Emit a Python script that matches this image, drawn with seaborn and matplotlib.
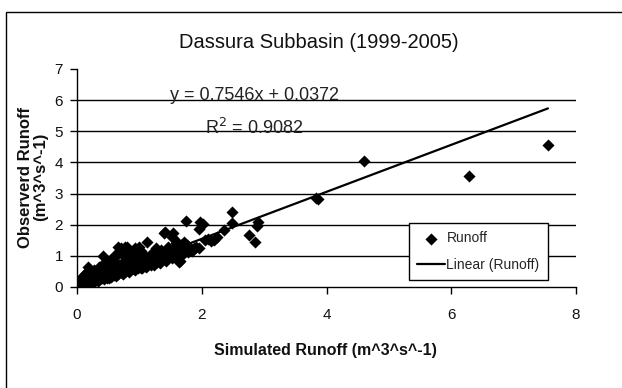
import matplotlib
matplotlib.use("Agg")
import matplotlib.pyplot as plt
from matplotlib.patches import Rectangle
import seaborn as sns
import pandas as pd

# Simulated vs observed runoff (m^3/s), Dassura subbasin 1999-2005
simulated = [
    0.01, 0.02, 0.03, 0.04, 0.05, 0.06, 0.07, 0.08, 0.09, 0.10, 0.11, 0.12, 0.13, 0.14,
    0.15, 0.16, 0.17, 0.18, 0.19, 0.20, 0.21, 0.22, 0.23, 0.24, 0.25, 0.26, 0.27, 0.28,
    0.29, 0.30, 0.15, 0.17, 0.12, 0.08, 0.05,
    0.32, 0.34, 0.36, 0.38, 0.40, 0.42, 0.44, 0.46, 0.48, 0.50, 0.52, 0.54, 0.56, 0.58,
    0.60, 0.62, 0.64, 0.66, 0.68, 0.70, 0.72, 0.74, 0.76, 0.78, 0.80, 0.82, 0.84, 0.86,
    0.88, 0.90, 0.92, 0.94, 0.96, 0.98, 1.00, 1.02, 1.04, 1.06, 1.08, 1.10, 1.12, 1.14,
    1.16, 1.18, 1.20, 1.22, 1.24, 1.26, 1.28, 1.30, 1.32, 1.34, 1.36, 1.38, 1.40, 1.42,
    1.44, 1.46, 1.48, 1.50, 1.52, 1.54, 1.56, 1.58, 1.60, 1.62, 1.64, 1.66, 1.68, 1.70,
    1.72, 1.74, 1.76, 1.80, 1.85, 1.88, 1.90,
    0.35, 0.45, 0.55, 0.65, 0.75, 0.85, 0.95, 1.05, 1.15, 1.25, 1.35, 1.45, 1.55, 0.25,
    0.30, 0.40, 0.50, 0.60, 0.70, 0.80, 0.90, 1.00, 1.10, 0.45, 0.55, 0.62, 0.72, 0.85,
    1.00, 0.35, 0.28, 0.20, 0.10, 0.22, 0.33, 0.43, 0.52, 0.63, 0.73, 0.83, 0.93, 1.03,
    1.13, 1.23, 1.33, 1.43, 1.53, 1.63, 0.66, 0.77, 0.80, 0.93,
    0.58, 0.68, 0.78, 0.88, 0.98, 1.08, 1.18, 1.28, 1.38, 1.48, 1.58, 1.68, 1.78, 0.48,
    0.38, 0.26, 0.14, 1.21, 1.31, 1.47, 1.57, 1.71, 1.82,
    1.75, 1.97, 1.95, 2.02, 2.36, 2.05, 2.15, 2.20, 1.86, 1.95, 2.48, 2.48, 2.90, 2.88,
    2.76, 2.85, 3.83, 3.86, 4.60, 6.28, 7.55, 1.41, 1.54, 1.65, 1.60, 2.10, 2.25,
]
observed = [
    0.02, 0.05, 0.01, 0.08, 0.03, 0.12, 0.05, 0.15, 0.06, 0.20, 0.08, 0.25, 0.10, 0.30,
    0.12, 0.22, 0.14, 0.35, 0.16, 0.55, 0.18, 0.28, 0.20, 0.40, 0.17, 0.32, 0.22, 0.45,
    0.20, 0.36, 0.45, 0.65, 0.40, 0.30, 0.18,
    0.25, 0.40, 0.22, 0.55, 0.30, 1.00, 0.35, 0.60, 0.30, 0.45, 0.75, 0.33, 0.50, 0.85,
    0.38, 0.65, 1.10, 0.42, 0.72, 1.25, 0.45, 0.80, 1.00, 0.50, 0.68, 1.20, 0.52, 0.90,
    0.60, 1.10, 0.58, 0.75, 1.00, 0.60, 0.85, 1.15, 0.62, 0.80, 1.00, 0.65, 1.45, 0.75,
    0.95, 0.70, 1.10, 0.78, 0.90, 1.25, 0.80, 1.00, 0.85, 1.20, 0.88, 1.05, 1.75, 0.92,
    1.15, 1.30, 0.95, 1.10, 1.60, 1.00, 1.25, 1.40, 1.05, 1.20, 0.80, 1.35, 1.15, 1.28,
    1.45, 1.20, 1.35, 1.20, 1.15, 1.25, 1.30,
    0.30, 0.42, 0.60, 0.55, 0.65, 0.75, 0.85, 0.90, 0.85, 1.05, 1.10, 1.05, 1.15, 0.25,
    0.50, 0.50, 0.60, 0.55, 0.60, 0.90, 0.70, 0.70, 0.95, 0.80, 0.90, 1.00, 1.15, 1.05,
    1.30, 0.65, 0.55, 0.45, 0.35, 0.15, 0.20, 0.25, 0.30, 0.36, 0.42, 0.48, 0.54, 0.60,
    0.66, 0.72, 0.78, 0.85, 0.92, 0.98, 1.30, 1.28, 1.30, 1.25,
    0.70, 0.62, 0.72, 0.82, 0.78, 0.88, 1.00, 0.95, 0.98, 1.20, 1.30, 1.05, 1.12, 0.52,
    0.46, 0.38, 0.22, 0.88, 1.12, 1.22, 1.05, 1.10, 1.22,
    2.13, 2.08, 1.85, 2.02, 1.82, 1.50, 1.48, 1.52, 1.19, 1.25, 2.42, 2.05, 2.10, 1.95,
    1.66, 1.46, 2.87, 2.82, 4.05, 3.55, 4.55, 1.78, 1.74, 0.82, 1.45, 1.55, 1.60,
]

# Least-squares trend line reported for the series
slope = 0.7546
intercept = 0.0372
r_squared = 0.9082

x_ticks = [0, 2, 4, 6, 8]
y_ticks = [0, 1, 2, 3, 4, 5, 6, 7]

df = pd.DataFrame({"Simulated": simulated, "Observed": observed})

sns.set_theme(style="white")
plt.rcParams["font.family"] = ["Liberation Sans", "DejaVu Sans"]

fig = plt.figure(figsize=(6.22, 3.88), dpi=100)
ax = fig.add_axes([77 / 622, 1 - 287 / 388, 499 / 622, 218 / 388])

# Chart-area frame
fig.patches.append(Rectangle((6 / 622, -0.1), 1.2, 1 - 12 / 388 + 0.1,
                             transform=fig.transFigure, fill=False,
                             edgecolor="black", linewidth=1.0, zorder=0))

# Horizontal gridlines
for yv in y_ticks[1:-1]:
    ax.axhline(yv, color="black", linewidth=1.0, zorder=1)

sns.scatterplot(data=df, x="Simulated", y="Observed", ax=ax, marker="D",
                s=38, color="black", linewidth=0, zorder=3, label="Runoff")

x_end = max(simulated)
ax.plot([0, x_end], [intercept, slope * x_end + intercept], color="black",
        linewidth=1.6, zorder=4, label="Linear (Runoff)")

ax.set_xlim(0, 8)
ax.set_ylim(0, 7)
ax.set_xticks(x_ticks)
ax.set_yticks(y_ticks)
ax.tick_params(axis="both", which="major", labelsize=11, color="black",
               direction="out", length=5, width=1, labelcolor="#111111")
ax.tick_params(axis="x", pad=10)
ax.tick_params(axis="y", pad=5)
ax.xaxis.set_ticks_position("bottom")
ax.yaxis.set_ticks_position("left")

for side in ["top", "right"]:
    ax.spines[side].set_visible(False)
for side in ["left", "bottom"]:
    ax.spines[side].set_color("black")
    ax.spines[side].set_linewidth(1.0)

ax.set_xlabel("Simulated Runoff (m^3^s^-1)", fontsize=11.5, fontweight="bold",
              color="#111111")
ax.set_ylabel("Observerd Runoff\n(m^3^s^-1)", fontsize=12, fontweight="bold",
              color="#111111", linespacing=1.0)
ax.xaxis.set_label_coords((325 - 77) / 499, (287 - 343) / 218)
ax.yaxis.set_label_coords((48 - 77) / 499, (287 - 177) / 218)

fig.text(319 / 622, 1 - 42 / 388, "Dassura Subbasin (1999-2005)", fontsize=14.5,
         ha="center", va="center", color="#111111")

ax.text((255 - 77) / 499, (287 - 95) / 218, f"y = {slope}x + {intercept:.4f}",
        transform=ax.transAxes, ha="center", va="center", fontsize=13,
        color="#222222", zorder=5)
ax.text((254 - 77) / 499, (287 - 128) / 218, f"R$^2$ = {r_squared}",
        transform=ax.transAxes, ha="center", va="center", fontsize=13,
        color="#222222", zorder=5)

leg = ax.legend(loc="lower left", bbox_to_anchor=((409 - 77) / 499, (287 - 280) / 218),
                fontsize=10, frameon=True, fancybox=False, framealpha=1,
                edgecolor="black", borderpad=0.6, handlelength=2.0,
                handletextpad=0.1, labelspacing=0.9, borderaxespad=0)
leg.get_frame().set_linewidth(1.0)
leg.set_zorder(6)

fig.savefig("out.png", dpi=100)
